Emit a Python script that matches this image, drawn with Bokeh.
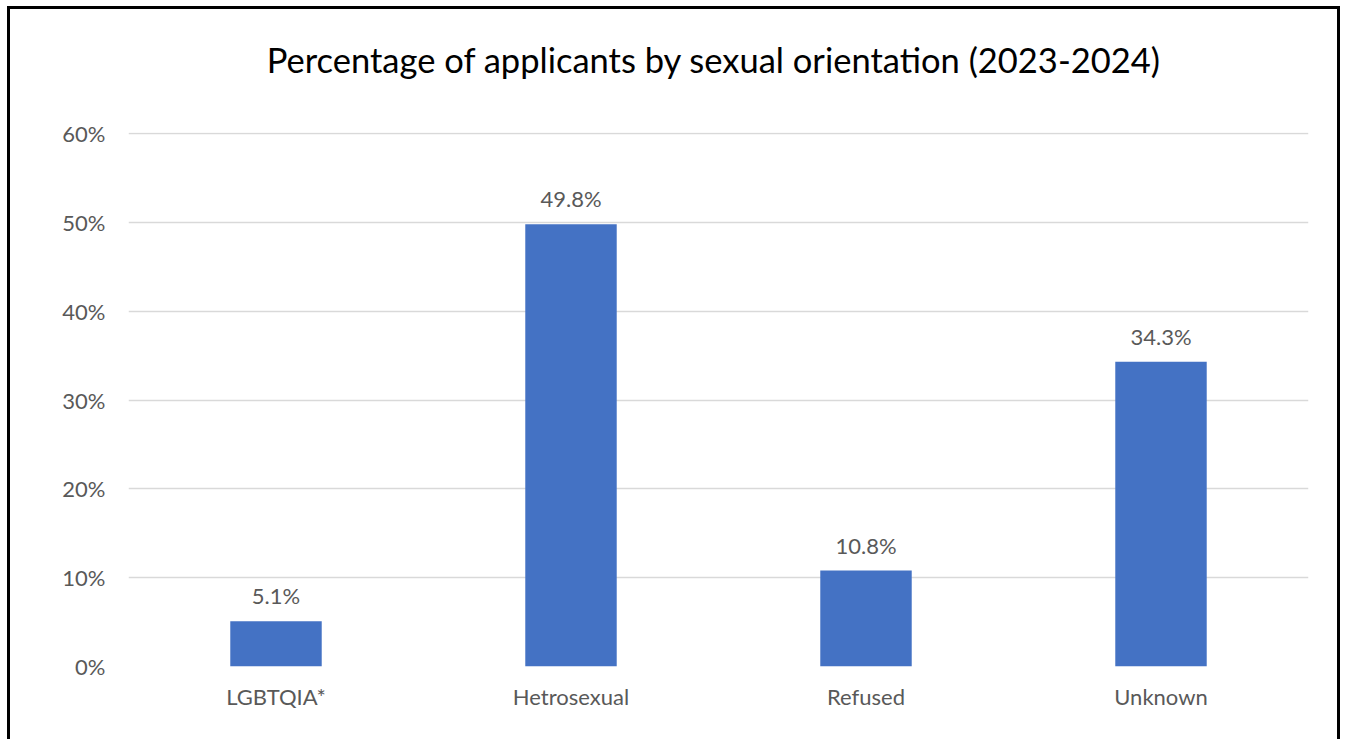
from bokeh.plotting import figure
from bokeh.models import ColumnDataSource, NumeralTickFormatter, FixedTicker, LabelSet, Range1d, Title
from bokeh.core.properties import value
from bokeh.embed import file_html
from bokeh.resources import INLINE

title_text = "Percentage of applicants by sexual orientation  (2023-2024)"
categories = ["LGBTQIA*", "Hetrosexual", "Refused", "Unknown"]
values = [0.051, 0.498, 0.108, 0.343]
value_labels = ["5.1%", "49.8%", "10.8%", "34.3%"]
y_ticks = [0.0, 0.1, 0.2, 0.3, 0.4, 0.5, 0.6]

FONT = "Lato"
GREY = "#595959"

src = ColumnDataSource(dict(cat=categories, val=values, lab=value_labels))

p = figure(x_range=categories, y_range=Range1d(0, 0.6012), width=1333, height=733,
           output_backend="svg", toolbar_location=None, title_location=None,
           min_border_left=118, min_border_right=35, min_border_top=123, min_border_bottom=76)
p.styles = {"border-top": "3px solid black", "border-left": "3px solid black",
            "border-right": "3px solid black", "margin-left": "7px", "margin-top": "6px"}

# spacer between the plot area and the title (first added sits nearest the plot)
p.add_layout(Title(text=" ", text_font_size="1px", standoff=50), "above")
p.add_layout(Title(text=title_text, align="center", offset=-12, standoff=0,
                   text_font=FONT, text_font_size="34.5px", text_font_style="normal",
                   text_color="#000000"), "above")

p.vbar(x="cat", top="val", width=0.31, source=src, color="#4472C4", line_color=None)

labels = LabelSet(x="cat", y="val", text="lab", source=src, text_align="center",
                  text_baseline="bottom", y_offset=12, text_font=value(FONT),
                  text_font_size="22px", text_color=GREY)
p.add_layout(labels)

p.outline_line_color = None
p.xgrid.grid_line_color = None
p.ygrid.grid_line_color = "#d9d9d9"
p.ygrid.grid_line_width = 1.5
p.yaxis.ticker = FixedTicker(ticks=y_ticks)
p.yaxis.formatter = NumeralTickFormatter(format="0%")

for ax in (p.xaxis, p.yaxis):
    ax.axis_line_color = None
    ax.major_tick_line_color = None
    ax.minor_tick_line_color = None
    ax.major_label_text_font = FONT
    ax.major_label_text_font_size = "22px"
    ax.major_label_text_color = GREY
p.yaxis.major_label_standoff = 17
p.xaxis.major_label_standoff = 10

open("out.html", "w").write(file_html(p, INLINE))
